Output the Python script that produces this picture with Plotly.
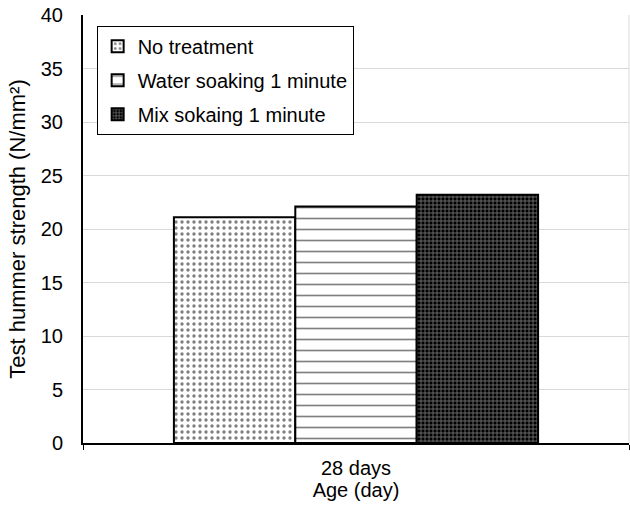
import plotly.graph_objects as go

categories = ["28 days"]
series_names = ["No treatment", "Water soaking 1 minute", "Mix sokaing 1 minute"]
values_no_treatment = [21.1]
values_water = [22.1]
values_mix = [23.2]
y_ticks = [0, 5, 10, 15, 20, 25, 30, 35, 40]

patterns = [
    dict(shape=".", fgcolor="black", bgcolor="white", size=6, solidity=0.25, fillmode="overlay"),
    dict(shape="-", fgcolor="black", bgcolor="white", size=11, solidity=0.15, fillmode="overlay"),
    dict(shape="+", fgcolor="white", bgcolor="black", size=4, solidity=0.35, fillmode="overlay"),
]

FS = 20
fig = go.Figure()
for i, (name, vals) in enumerate(zip(series_names, [values_no_treatment, values_water, values_mix])):
    fig.add_trace(go.Bar(
        x=categories, y=vals, name=name,
        marker=dict(color="white" if i < 2 else "black", line=dict(color="black", width=2), pattern=patterns[i]),
        legendgroup=f"g{i}",
    ))

fig.update_layout(
    width=630, height=506,
    margin=dict(l=83, r=1, t=15, b=63),
    paper_bgcolor="white", plot_bgcolor="white",
    barmode="group", bargap=0.333, bargroupgap=0,
    font=dict(family="Liberation Sans, Arial", size=FS, color="black"),
    showlegend=True,
    legend=dict(
        x=0.025, y=0.975, xanchor="left", yanchor="top",
        bordercolor="black", borderwidth=1, bgcolor="white",
        font=dict(size=FS), tracegroupgap=5,
        itemwidth=30,
    ),
    xaxis=dict(
        title=dict(text="Age (day)", standoff=0, font=dict(size=FS)),
        showline=True, linecolor="black", linewidth=2,
        ticks="outside", tickson="boundaries", ticklen=5, tickcolor="black",
        tickfont=dict(size=FS), ticklabelstandoff=6,
        showgrid=False, automargin=False,
    ),
    yaxis=dict(
        title=dict(text="Test hummer strength (N/mm²)", standoff=9, font=dict(size=22)),
        range=[0, 40], tickvals=y_ticks,
        showline=True, linecolor="black", linewidth=2,
        showgrid=True, gridcolor="#d9d9d9", gridwidth=1,
        zeroline=False, ticks="", tickfont=dict(size=FS), ticklabelstandoff=14,
        automargin=False,
    ),
)
fig.add_shape(type="line", xref="paper", yref="paper", x0=1, x1=1, y0=0, y1=1,
              line=dict(color="#d9d9d9", width=1))

fig.write_html("out.html")
